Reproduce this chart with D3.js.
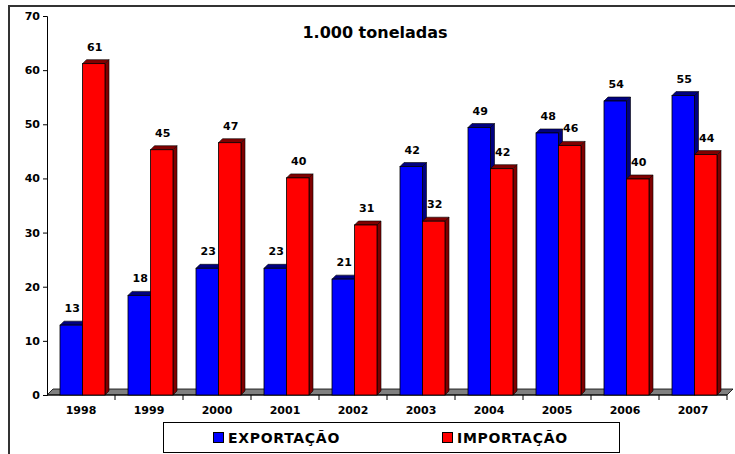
<!DOCTYPE html>
<html>
  <head>
    <meta charset="utf-8">
    <script src="https://d3js.org/d3.v7.min.js"></script>
    <style>
      body { margin: 0; background: #fff; }
      text { font-family: "DejaVu Sans", Verdana, sans-serif; font-weight: bold; fill: #000; }
    </style>
  </head>
  <body>
    <svg width="735" height="454"></svg>
    <script>
      const years = ['1998', '1999', '2000', '2001', '2002', '2003', '2004', '2005', '2006', '2007'];
      const exportacao = [12.9, 18.4, 23.4, 23.4, 21.4, 42.2, 49.4, 48.4, 54.3, 55.3];
      const importacao = [61.2, 45.3, 46.6, 40.1, 31.4, 32.1, 41.8, 46.1, 39.9, 44.4];
      const seriesNames = ['EXPORTAÇÃO', 'IMPORTAÇÃO'];
      const yTicks = [0, 10, 20, 30, 40, 50, 60, 70];

      const svg = d3.select('svg');
      const colors = { front: ['#0000ff', '#ff0000'], dark: ['#000080', '#800000'] };

      // outer frame (cut off at right / bottom like the reference)
      svg.append('path')
        .attr('d', 'M9,454 V6 H735')
        .attr('fill', 'none').attr('stroke', '#333').attr('stroke-width', 2);

      const x = d3.scaleBand().domain(years).range([47, 727]);
      const xs = d3.scaleBand().domain([0, 1]).range([13, 58]);
      const y = d3.scaleLinear().domain([0, 70]).range([395, 16]);
      const d = 4;

      // floor
      const fd = 6;
      svg.append('polygon')
        .attr('points', [[47, y(0)], [47 + fd, y(0) - fd], [727 + fd, y(0) - fd], [727, y(0)]].join(' '))
        .attr('fill', '#808080').attr('stroke', '#000').attr('stroke-width', 0.8);

      // axes
      const yAxis = svg.append('g').attr('transform', 'translate(47,0)')
        .call(d3.axisLeft(y).tickValues(yTicks).tickSize(4).tickPadding(3));
      const xAxis = svg.append('g').attr('transform', `translate(0,${y(0)})`)
        .call(d3.axisBottom(x).tickSize(0).tickPadding(11));
      [yAxis, xAxis].forEach(g => {
        g.select('.domain').attr('stroke', '#000');
        g.selectAll('text').attr('font-size', '11px').attr('font-family', null);
      });
      xAxis.select('.domain').attr('d', 'M47,0 H727');
      xAxis.selectAll('.sep').data(d3.range(1, years.length + 1)).join('line')
        .attr('x1', i => 47 + x.step() * i).attr('x2', i => 47 + x.step() * i)
        .attr('y1', 0).attr('y2', 5).attr('stroke', '#000');

      // bars
      const data = [exportacao, importacao];
      data.forEach((vals, s) => {
        const g = svg.append('g');
        vals.forEach((v, i) => {
          const x0 = x(years[i]) + xs(s), w = xs.bandwidth(), yv = y(v), y0 = y(0);
          g.append('polygon')
            .attr('points', [[x0 + w, yv], [x0 + w + d, yv - d], [x0 + w + d, y0 - d], [x0 + w, y0]].join(' '))
            .attr('fill', colors.dark[s]).attr('stroke', '#000').attr('stroke-width', 0.6);
          g.append('polygon')
            .attr('points', [[x0, yv], [x0 + d, yv - d], [x0 + w + d, yv - d], [x0 + w, yv]].join(' '))
            .attr('fill', colors.dark[s]).attr('stroke', '#000').attr('stroke-width', 0.6);
          g.append('rect')
            .attr('x', x0).attr('y', yv).attr('width', w).attr('height', y0 - yv)
            .attr('fill', colors.front[s]).attr('stroke', '#000').attr('stroke-width', 0.8);
          g.append('text')
            .attr('x', x0 + w / 2 + 1).attr('y', yv - 13)
            .attr('text-anchor', 'middle').attr('font-size', '11px')
            .text(d3.format('.0f')(v));
        });
      });

      // title
      svg.append('text')
        .attr('x', 375).attr('y', 38).attr('text-anchor', 'middle')
        .attr('font-size', '16px').text('1.000 toneladas');

      // legend
      const lg = svg.append('g');
      lg.append('rect').attr('x', 163.5).attr('y', 422.5).attr('width', 456).attr('height', 30)
        .attr('fill', '#fff').attr('stroke', '#000').attr('stroke-width', 1);
      const lx = [213, 442];
      seriesNames.forEach((name, s) => {
        lg.append('rect').attr('x', lx[s] + 0.5).attr('y', 432.5).attr('width', 10).attr('height', 10)
          .attr('fill', colors.front[s]).attr('stroke', '#000');
        lg.append('text').attr('x', lx[s] + 15).attr('y', 443)
          .attr('font-size', '14px').attr('letter-spacing', '0.7px').text(name);
      });
    </script>
  </body>
</html>
